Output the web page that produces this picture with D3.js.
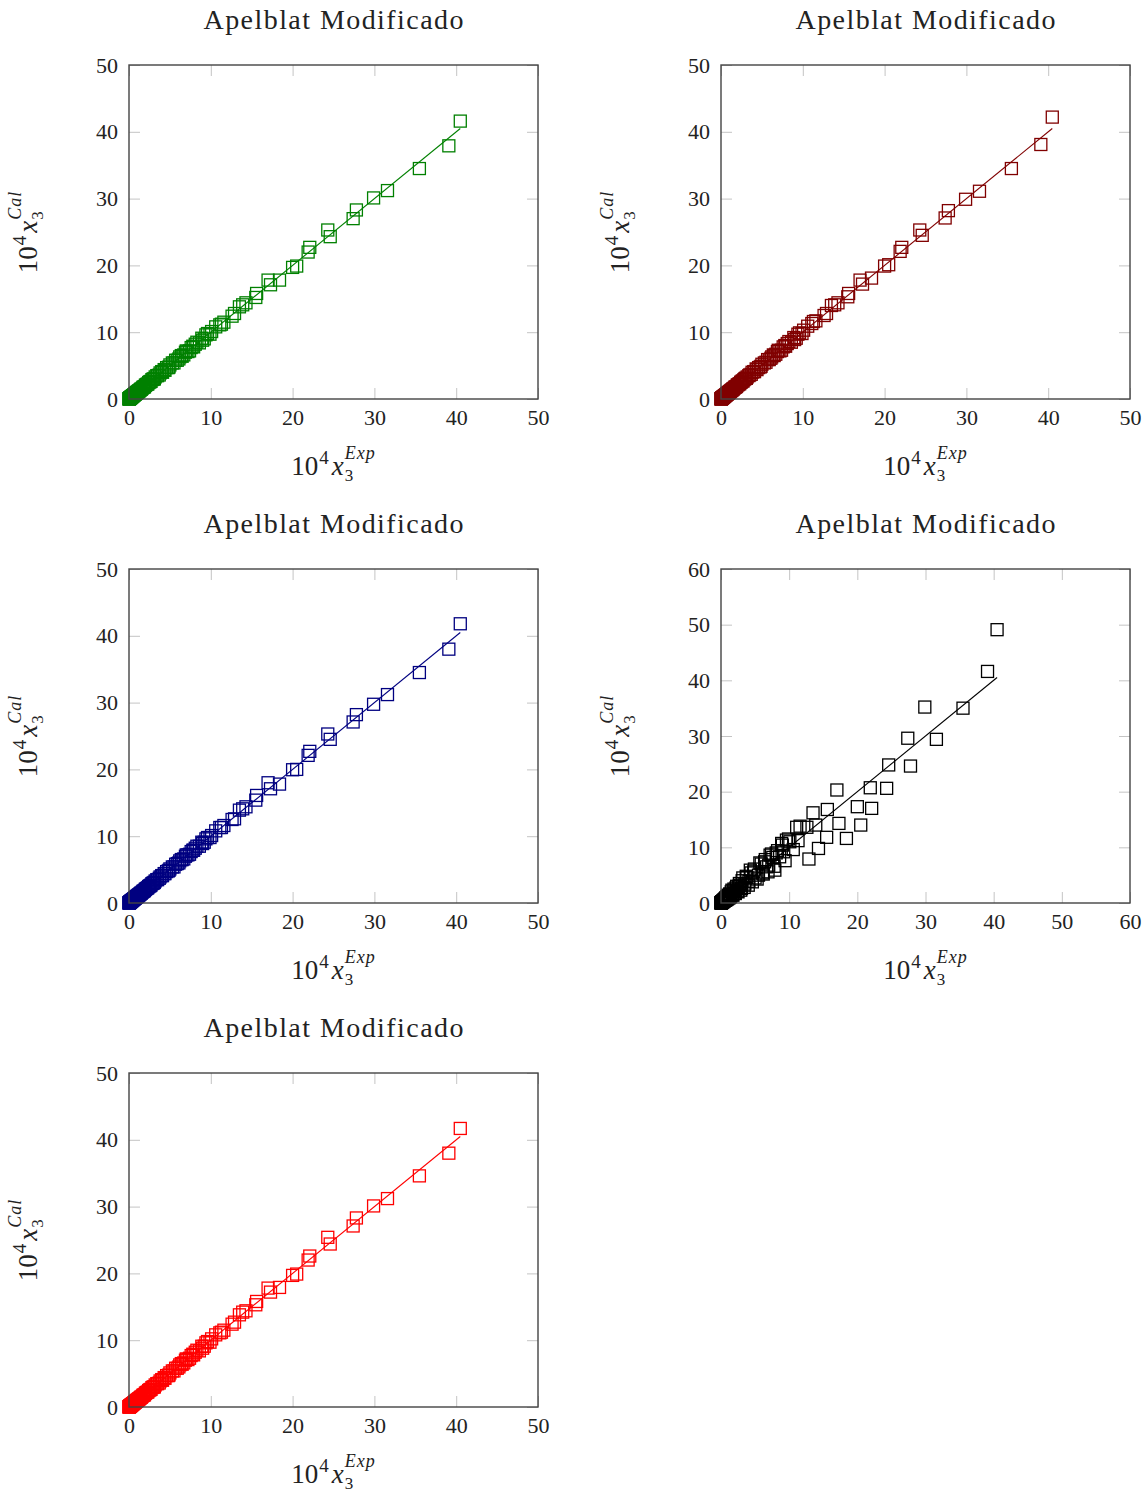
<!DOCTYPE html>
<html>
<head>
<meta charset="utf-8">
<script src="https://cdn.jsdelivr.net/npm/d3@7"></script>
<style>
  body { margin: 0; background: #fff; }
  svg text { font-family: "Liberation Serif", "DejaVu Serif", serif; fill: #222; }
</style>
</head>
<body>
<svg id="chart" width="1148" height="1494"></svg>
<script>
// experimental solubility (10^4 x3), shared by all panels
const expX = [40.5, 39.1, 35.5, 31.6, 29.9, 27.8, 27.4, 24.6, 24.3, 22.1, 21.9, 20.5, 20.0, 18.4, 17.3, 17.0,
  15.6, 15.5, 14.3, 13.9, 13.5, 12.9, 12.6, 11.3, 11.1, 10.1, 9.6, 9.2, 8.9, 8.6, 8.3, 7.9, 7.6, 7.2, 7.0, 6.7,
  6.4, 6.1, 5.7, 5.5, 5.0, 4.8, 4.3, 4.1, 3.8, 3.5, 3.2, 3.0, 2.8, 2.6, 2.4, 2.2, 2.0, 1.85, 1.7, 1.6, 1.45,
  1.33, 1.22, 1.12, 1.02, 0.93, 0.85, 0.77, 0.70, 0.63, 0.57, 0.51, 0.46, 0.41, 0.36, 0.32, 0.28, 0.24, 0.21,
  0.18, 0.15, 0.12, 0.10, 0.08, 0.06, 0.05, 0.04, 0.03, 0.02, 0.01,
  11.6, 10.6, 9.9, 9.4, 9.0, 8.1, 7.8, 7.4, 6.9, 6.5, 6.2, 5.9, 5.3, 4.9, 4.6, 4.4, 4.0, 3.7, 3.4, 3.1, 2.9,
  2.7, 2.5, 2.3, 2.1, 1.9, 1.75, 1.5, 1.38, 1.27, 1.15, 1.05, 0.96, 0.88, 0.8, 0.72, 0.65, 0.55, 0.45, 0.38,
  0.3, 0.25, 0.2, 0.14, 0.11, 0.07]

// calculated values, one list per panel
const calGreen = [41.6, 37.9, 34.5, 31.2, 30.1, 28.3, 27.0, 24.3, 25.3, 22.7, 22.0, 19.9, 19.7, 17.8, 17.1, 17.8,
  15.8, 15.2, 14.4, 14.1, 13.8, 12.8, 12.4, 11.2, 11.1, 10.1, 9.8, 9.0, 9.1, 8.4, 8.5, 7.8, 7.7, 7.1, 7.2, 6.6,
  6.5, 6.0, 5.8, 5.4, 5.1, 4.7, 4.4, 4.0, 3.9, 3.5, 3.3, 3.0, 2.9, 2.6, 2.45, 2.2, 2.05, 1.8, 1.72, 1.58, 1.47,
  1.3, 1.24, 1.1, 1.03, 0.92, 0.86, 0.76, 0.71, 0.62, 0.58, 0.50, 0.47, 0.40, 0.37, 0.31, 0.29, 0.23, 0.22,
  0.17, 0.15, 0.12, 0.10, 0.08, 0.06, 0.05, 0.04, 0.03, 0.02, 0.01,
  11.5, 10.8, 9.7, 9.6, 8.8, 8.2, 7.9, 7.2, 7.0, 6.4, 6.3, 5.8, 5.4, 4.8, 4.7, 4.3, 4.1, 3.6, 3.5, 3.0, 2.95,
  2.65, 2.55, 2.25, 2.15, 1.85, 1.78, 1.46, 1.4, 1.24, 1.17, 1.02, 0.98, 0.86, 0.82, 0.7, 0.66, 0.54, 0.46, 0.37,
  0.31, 0.24, 0.21, 0.13, 0.11, 0.07]
const calDarkRed = [42.2, 38.1, 34.5, 31.1, 29.9, 28.2, 27.1, 24.5, 25.3, 22.7, 22.1, 20.1, 19.9, 18.1, 17.2, 17.8,
  15.8, 15.3, 14.4, 14.1, 14.0, 12.8, 12.5, 11.6, 11.3, 10.3, 9.9, 9.1, 9.2, 8.5, 8.6, 7.9, 7.8, 7.2, 7.3, 6.7,
  6.6, 6.1, 5.9, 5.5, 5.2, 4.8, 4.5, 4.1, 4.0, 3.6, 3.3, 3.1, 2.9, 2.7, 2.5, 2.25, 2.1, 1.85, 1.75, 1.62, 1.5,
  1.34, 1.26, 1.13, 1.05, 0.95, 0.88, 0.78, 0.72, 0.64, 0.59, 0.52, 0.48, 0.42, 0.38, 0.33, 0.30, 0.25, 0.22,
  0.19, 0.16, 0.13, 0.11, 0.09, 0.07, 0.05, 0.04, 0.03, 0.02, 0.01,
  11.7, 10.9, 9.8, 9.7, 8.9, 8.3, 8.0, 7.3, 7.1, 6.5, 6.3, 5.9, 5.4, 4.9, 4.7, 4.4, 4.1, 3.7, 3.5, 3.1, 3.0,
  2.7, 2.55, 2.3, 2.15, 1.9, 1.78, 1.5, 1.4, 1.28, 1.17, 1.06, 0.98, 0.88, 0.82, 0.72, 0.66, 0.55, 0.46, 0.38,
  0.31, 0.25, 0.21, 0.14, 0.11, 0.07]
const calBlue = [41.8, 38.0, 34.5, 31.2, 29.75, 28.2, 27.1, 24.5, 25.3, 22.7, 22.1, 20.0, 19.95, 17.8, 17.1, 18.0,
  16.1, 15.4, 14.4, 14.1, 13.9, 12.6, 12.5, 11.3, 11.3, 10.1, 9.8, 9.1, 9.1, 8.5, 8.5, 7.9, 7.7, 7.2, 7.2, 6.6,
  6.5, 6.0, 5.8, 5.4, 5.1, 4.8, 4.4, 4.1, 3.9, 3.5, 3.3, 3.0, 2.9, 2.6, 2.45, 2.2, 2.05, 1.82, 1.72, 1.6, 1.47,
  1.32, 1.24, 1.11, 1.03, 0.93, 0.86, 0.77, 0.71, 0.63, 0.58, 0.51, 0.47, 0.41, 0.37, 0.32, 0.29, 0.24, 0.22,
  0.18, 0.15, 0.12, 0.10, 0.08, 0.06, 0.05, 0.04, 0.03, 0.02, 0.01,
  11.6, 10.8, 9.8, 9.6, 8.9, 8.2, 7.9, 7.3, 7.0, 6.5, 6.3, 5.9, 5.4, 4.9, 4.7, 4.4, 4.1, 3.7, 3.5, 3.1, 2.95,
  2.7, 2.55, 2.3, 2.15, 1.9, 1.78, 1.48, 1.4, 1.26, 1.17, 1.04, 0.98, 0.87, 0.82, 0.71, 0.66, 0.55, 0.46, 0.38,
  0.31, 0.25, 0.21, 0.14, 0.11, 0.07]
const calBlack = [49.1, 41.6, 35.0, 29.4, 35.2, 24.6, 29.6, 24.8, 20.6, 17.0, 20.7, 14.0, 17.3, 11.6, 14.3, 20.3,
  16.8, 11.8, 9.8, 14.0, 16.2, 7.9, 13.6, 11.2, 13.6, 11.0, 11.3, 9.2, 10.7, 8.3, 9.4, 5.9, 8.2, 8.6, 6.8, 6.5,
  7.4, 5.4, 7.2, 5.0, 4.5, 5.6, 5.9, 3.9, 4.6, 3.4, 4.5, 2.6, 3.2, 3.0, 2.1, 2.7, 1.8, 2.2, 1.5, 2.3, 1.3,
  1.6, 1.0, 1.3, 0.9, 1.1, 0.7, 0.9, 0.6, 0.75, 0.5, 0.6, 0.4, 0.5, 0.3, 0.38, 0.25, 0.3, 0.18,
  0.21, 0.13, 0.14, 0.09, 0.09, 0.05, 0.06, 0.04, 0.03, 0.02, 0.01,
  13.8, 9.6, 11.5, 7.6, 10.4, 9.0, 6.6, 8.8, 5.6, 7.8, 5.2, 7.0, 4.3, 6.1, 3.8, 5.4, 3.2, 4.8, 2.8, 4.0, 2.3,
  3.5, 2.0, 3.0, 1.7, 2.5, 1.4, 2.0, 1.1, 1.6, 0.9, 1.4, 0.75, 1.15, 0.62, 0.95, 0.5, 0.7, 0.36, 0.5,
  0.24, 0.33, 0.16, 0.2, 0.09, 0.1]
const calRed = [41.7, 38.0, 34.6, 31.2, 30.1, 28.3, 27.1, 24.4, 25.4, 22.6, 22.0, 19.9, 19.7, 17.9, 17.2, 17.8,
  15.8, 15.3, 14.4, 14.2, 13.8, 12.7, 12.4, 11.2, 11.1, 10.2, 9.8, 9.1, 9.1, 8.4, 8.5, 7.8, 7.7, 7.1, 7.2, 6.6,
  6.5, 6.0, 5.8, 5.4, 5.1, 4.7, 4.4, 4.0, 3.9, 3.5, 3.3, 3.0, 2.9, 2.6, 2.45, 2.2, 2.05, 1.8, 1.72, 1.58, 1.47,
  1.3, 1.24, 1.1, 1.03, 0.92, 0.86, 0.76, 0.71, 0.62, 0.58, 0.50, 0.47, 0.40, 0.37, 0.31, 0.29, 0.23, 0.22,
  0.17, 0.15, 0.12, 0.10, 0.08, 0.06, 0.05, 0.04, 0.03, 0.02, 0.01,
  11.5, 10.8, 9.7, 9.6, 8.8, 8.2, 7.9, 7.3, 7.0, 6.4, 6.3, 5.8, 5.4, 4.8, 4.7, 4.3, 4.1, 3.6, 3.5, 3.0, 2.95,
  2.65, 2.55, 2.25, 2.15, 1.85, 1.78, 1.46, 1.4, 1.24, 1.17, 1.02, 0.98, 0.86, 0.82, 0.7, 0.66, 0.54, 0.46, 0.37,
  0.31, 0.24, 0.21, 0.13, 0.11, 0.07]

const ticks50 = [0, 10, 20, 30, 40, 50]
const ticks60 = [0, 10, 20, 30, 40, 50, 60]
const titleText = 'Apelblat Modificado'
const FONT = '"Liberation Serif", "DejaVu Serif", serif'

const panels = [
    { left: 129, top: 65, cal: calGreen, color: '#008000', ticks: ticks50 },
    { left: 721, top: 65, cal: calDarkRed, color: '#800000', ticks: ticks50 },
    { left: 129, top: 569, cal: calBlue, color: '#000080', ticks: ticks50 },
    { left: 721, top: 569, cal: calBlack, color: '#000000', ticks: ticks60 },
    { left: 129, top: 1073, cal: calRed, color: '#ff0000', ticks: ticks50 }
]
const W = 409, H = 334

const svg = d3.select('#chart')

// 10^4 x_3^{sup} built from pieces, centred on (cx, cy) baseline
const mathLabel = (parent, sup, cx, cy, rot) => {
    const g = parent.append('g').attr('transform', `translate(${cx},${cy}) rotate(${rot})`)
    const inner = g.append('g').style('font-family', FONT)
    let x = 0
    const t10 = inner.append('text').attr('x', x).attr('y', 0).style('font-size', '27px').text('10')
    x += t10.node().getComputedTextLength() + 1
    const t4 = inner.append('text').attr('x', x).attr('y', -11).style('font-size', '19px').text('4')
    x += t4.node().getComputedTextLength() + 3
    const tx = inner.append('text').attr('x', x).attr('y', 0).style('font-size', '27px')
        .style('font-style', 'italic').text('x')
    x += tx.node().getComputedTextLength() + 1
    inner.append('text').attr('x', x).attr('y', 6).style('font-size', '17px').text('3')
    inner.append('text').attr('x', x).attr('y', -16).attr('letter-spacing', 1).style('font-size', '18px')
        .style('font-style', 'italic').text(sup)
    const bb = inner.node().getBBox()
    inner.attr('transform', `translate(${-bb.x - bb.width / 2},0)`)
}

panels.forEach(p => {
    const max = d3.max(p.ticks)
    const x = d3.scaleLinear().domain([0, max]).range([0, W])
    const y = d3.scaleLinear().domain([0, max]).range([H, 0])
    const g = svg.append('g').attr('transform', `translate(${p.left},${p.top})`)

    // inward tick marks on all four sides
    const tickStyle = sel => {
        sel.select('.domain').remove()
        sel.selectAll('.tick line').attr('stroke', '#c4c4c4').attr('stroke-width', 1)
        sel.selectAll('.tick text').remove()
    }
    g.append('g').attr('transform', `translate(0,${H})`)
        .call(d3.axisBottom(x).tickValues(p.ticks).tickSize(-11)).call(tickStyle)
    g.append('g').call(d3.axisTop(x).tickValues(p.ticks).tickSize(-11)).call(tickStyle)
    g.append('g').call(d3.axisLeft(y).tickValues(p.ticks).tickSize(-11)).call(tickStyle)
    g.append('g').attr('transform', `translate(${W},0)`)
        .call(d3.axisRight(y).tickValues(p.ticks).tickSize(-11)).call(tickStyle)

    // tick labels
    const lab = sel => {
        sel.attr('font-family', FONT).attr('font-size', 22)
        sel.select('.domain').remove()
        sel.selectAll('.tick line').remove()
        sel.selectAll('.tick text').attr('fill', '#222')
    }
    g.append('g').attr('transform', `translate(0,${H})`)
        .call(d3.axisBottom(x).tickValues(p.ticks).tickSize(0).tickPadding(10)).call(lab)
    g.append('g')
        .call(d3.axisLeft(y).tickValues(p.ticks).tickSize(0).tickPadding(11)).call(lab)

    const pts = expX.map((v, i) => ({ e: v, c: p.cal[i] }))
    g.append('g').selectAll('rect')
        .data(pts)
        .enter()
        .append('rect')
        .attr('x', d => x(d.e) - 6)
        .attr('y', d => y(d.c) - 6)
        .attr('width', 12)
        .attr('height', 12)
        .attr('fill', 'none')
        .attr('stroke', p.color)
        .attr('stroke-width', 1.3)

    const emax = d3.max(expX)
    g.append('path')
        .datum([[0, 0], [emax, emax]])
        .attr('d', d3.line().x(d => x(d[0])).y(d => y(d[1])))
        .attr('stroke', p.color)
        .attr('stroke-width', 1.1)
        .attr('fill', 'none')

    g.append('rect').attr('width', W).attr('height', H)
        .attr('fill', 'none').attr('stroke', '#444').attr('stroke-width', 1.4)

    svg.append('text')
        .attr('x', p.left + W / 2 - 130).attr('y', p.top - 36)
        .attr('textLength', 260)
        .style('font-family', FONT)
        .style('font-size', '28px')
        .text(titleText)

    mathLabel(svg, 'Exp', p.left + W / 2, p.top + H + 76, 0)
    mathLabel(svg, 'Cal', p.left - 92, p.top + H / 2, -90)
})
</script>
</body>
</html>
